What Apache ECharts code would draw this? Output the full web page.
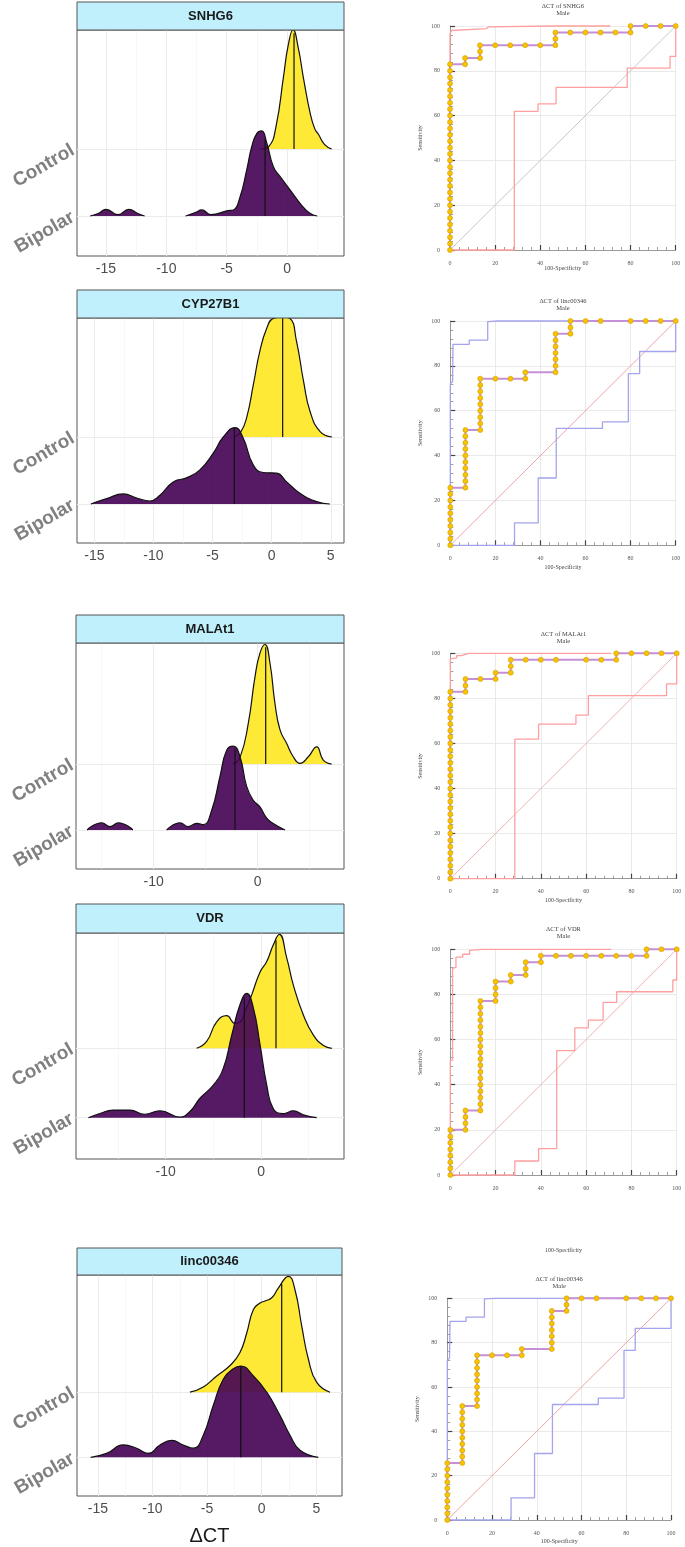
<!DOCTYPE html>
<html><head><meta charset="utf-8">
<script src="https://cdn.jsdelivr.net/npm/echarts@6/dist/echarts.min.js"></script>
<style>html,body{margin:0;padding:0;background:#fff}#c{width:685px;height:1547px}</style>
</head><body><div id="c"></div>
<script>
// ---------------- DATA ----------------
const genes = ['SNHG6', 'CYP27B1', 'MALAt1', 'VDR', 'linc00346'];
const groups = ['Bipolar', 'Control'];

// ridge densities: [ΔCT, relative height]; null = gap
const snhg6Control = [[-2.2,0],[-1.5,0.04],[-0.9,0.35],[-0.3,1.07],[0.1,1.55],[0.5,1.78],[0.94,1.5],[1.35,1.07],[1.91,0.54],[2.3,0.3],[2.6,0.22],[3.1,0.07],[3.7,0]];
const snhg6Bipolar = [[-16.3,0],[-15.6,0.04],[-15.0,0.1],[-14.0,0.02],[-13.1,0.1],[-12.4,0.04],[-11.8,0],null,[-8.4,0],[-7.6,0.05],[-7.07,0.09],[-6.3,0.02],[-4.92,0.08],[-4.45,0.09],[-3.9,0.28],[-3.34,0.69],[-2.93,1.03],[-2.51,1.23],[-2.1,1.27],[-1.68,1.09],[-1.14,0.74],[-0.58,0.59],[0.25,0.39],[1.08,0.19],[1.9,0.04],[2.5,0]];
const cyp27b1Control = [[-3.2,0],[-2.6,0.08],[-2.1,0.3],[-1.55,0.78],[-1.0,1.28],[-0.4,1.63],[0.15,1.77],[0.9,1.79],[1.55,1.77],[2.1,1.43],[2.7,0.83],[3.25,0.38],[4.1,0.08],[5.1,0]];
const cyp27b1Bipolar = [[-15.3,0],[-13.96,0.08],[-12.55,0.15],[-11.42,0.09],[-10.3,0.045],[-9.45,0.13],[-8.33,0.33],[-7.2,0.39],[-6.07,0.51],[-4.94,0.76],[-4.09,1.0],[-3.1,1.14],[-2.4,0.98],[-1.55,0.58],[-0.71,0.47],[0.42,0.46],[1.27,0.33],[2.39,0.16],[3.81,0.035],[4.93,0]];
const malat1Control = [[-2.4,0],[-1.7,0.1],[-0.9,0.62],[-0.26,1.32],[0.22,1.68],[0.7,1.81],[1.18,1.53],[1.66,0.92],[2.14,0.52],[2.79,0.31],[3.42,0.11],[4.07,0.01],[4.87,0.11],[5.67,0.26],[6.31,0.06],[7.12,0]];
const malat1Bipolar = [[-16.4,0],[-15.0,0.11],[-14.2,0.05],[-13.4,0.11],[-12.0,0],null,[-8.75,0],[-7.47,0.11],[-6.67,0.05],[-5.87,0.1],[-5.23,0.08],[-4.42,0.3],[-3.63,0.81],[-2.98,1.21],[-2.35,1.27],[-1.7,1.11],[-1.06,0.66],[-0.42,0.45],[0.22,0.35],[0.87,0.18],[1.5,0.1],[2.63,0]];
const vdrControl = [[-6.75,0],[-5.7,0.1],[-4.65,0.38],[-3.6,0.47],[-2.73,0.36],[-2.2,0.375],[-1.68,0.53],[-0.98,0.77],[-0.1,1.1],[0.6,1.25],[1.29,1.49],[1.92,1.64],[2.7,1.3],[3.39,0.91],[4.44,0.48],[5.49,0.19],[6.54,0.04],[7.42,0]];
const vdrBipolar = [[-18.1,0],[-16.9,0.06],[-15.5,0.11],[-13.75,0.11],[-12.2,0.05],[-10.6,0.1],[-8.5,0.01],[-7.45,0.09],[-6.4,0.28],[-5.0,0.47],[-3.96,0.71],[-3.07,1.19],[-2.2,1.63],[-1.5,1.79],[-0.8,1.58],[-0.1,1.05],[0.6,0.47],[1.29,0.13],[2.34,0.06],[3.39,0.1],[4.44,0.04],[5.84,0]];
const linc00346Control = [[-6.57,0],[-5.35,0.08],[-4.12,0.25],[-2.9,0.41],[-1.99,0.61],[-1.37,0.91],[-0.76,1.27],[-0.15,1.37],[0.3,1.4],[0.92,1.45],[1.52,1.6],[2.44,1.78],[3.05,1.57],[3.66,1.02],[4.27,0.51],[5.04,0.15],[6.25,0]];
const linc00346Bipolar = [[-15.66,0],[-14.2,0.06],[-12.67,0.19],[-11.45,0.14],[-10.38,0.06],[-9.31,0.19],[-8.24,0.26],[-7.18,0.19],[-6.26,0.14],[-5.35,0.34],[-4.43,0.8],[-3.52,1.2],[-2.6,1.36],[-1.92,1.4],[-0.76,1.25],[0.46,1.0],[1.68,0.64],[2.59,0.34],[3.51,0.11],[5.18,0]];

const controlMedians = [0.58, 0.93, 0.77, 1.57, 1.83];
const bipolarMedians = [-1.82, -3.16, -2.18, -1.75, -1.92];

const majorTicks = [[-15,-10,-5,0],[-15,-10,-5,0,5],[-10,0],[-10,0],[-15,-10,-5,0,5]];
const minorTicks = [[-12.5,-7.5,-2.5,2.5],[-12.5,-7.5,-2.5,2.5],[-15,-5,5],[-15,-5,5],[-12.5,-7.5,-2.5,2.5]];

// ROC curves: [100-Specificity, Sensitivity]
const snhg6Roc = [[0,0],[0,2.9],[0,5.7],[0,8.6],[0,11.4],[0,14.3],[0,17.1],[0,20],[0,22.9],[0,25.7],[0,28.6],[0,31.4],[0,34.3],[0,37.1],[0,40],[0,42.9],[0,45.7],[0,48.6],[0,51.4],[0,54.3],[0,57.1],[0,60],[0,62.9],[0,65.7],[0,68.6],[0,71.4],[0,74.3],[0,77.1],[0,80],[0,82.9],[6.7,82.9],[6.7,85.7],[13.3,85.7],[13.3,88.6],[13.3,91.4],[20,91.4],[26.7,91.4],[33.3,91.4],[40,91.4],[46.7,91.4],[46.7,94.3],[46.7,97.1],[53.3,97.1],[60,97.1],[66.7,97.1],[73.3,97.1],[80,97.1],[80,100],[86.7,100],[93.3,100],[100,100]];
const snhg6Upper = [[0,0],[0,96.5],[0.7,98],[1.5,98.6],[16,98.8],[17,99.6],[45,100],[71,100]];
const snhg6Lower = [[0,0],[28.5,0],[28.5,61.9],[39,61.9],[39,65.2],[47,65.2],[47,72.6],[78.5,72.6],[78.5,81.2],[97.5,81.2],[97.5,86.4],[100,86.4],[100,100]];

const linc00346Roc = [[0,0],[0,2.9],[0,5.7],[0,8.6],[0,11.4],[0,14.3],[0,17.1],[0,20],[0,22.9],[0,25.7],[6.7,25.7],[6.7,28.6],[6.7,31.4],[6.7,34.3],[6.7,37.1],[6.7,40],[6.7,42.9],[6.7,45.7],[6.7,48.6],[6.7,51.4],[13.3,51.4],[13.3,54.3],[13.3,57.1],[13.3,60],[13.3,62.9],[13.3,65.7],[13.3,68.6],[13.3,71.4],[13.3,74.3],[20,74.3],[26.7,74.3],[33.3,74.3],[33.3,77.1],[46.7,77.1],[46.7,80],[46.7,82.9],[46.7,85.7],[46.7,88.6],[46.7,91.4],[46.7,94.3],[53.3,94.3],[53.3,97.1],[53.3,100],[60,100],[66.7,100],[80,100],[86.7,100],[93.3,100],[100,100]];
const linc00346Upper = [[0,0],[0,72],[1,73],[1.2,89.6],[8.4,89.6],[8.4,91.5],[16.6,91.5],[16.6,99.7],[21,100],[100,100]];
const linc00346Lower = [[0,0],[28.5,0],[28.5,10],[39,10],[39,30],[47,30],[47,52.1],[67.5,52.1],[67.5,55],[79,55],[79,76.5],[84,76.5],[84,86.4],[100,86.4],[100,100]];

const malat1Roc = [[0,0],[0,2.9],[0,5.7],[0,8.6],[0,11.4],[0,14.3],[0,17.1],[0,20],[0,22.9],[0,25.7],[0,28.6],[0,31.4],[0,34.3],[0,37.1],[0,40],[0,42.9],[0,45.7],[0,48.6],[0,51.4],[0,54.3],[0,57.1],[0,60],[0,62.9],[0,65.7],[0,68.6],[0,71.4],[0,74.3],[0,77.1],[0,80],[0,82.9],[6.7,82.9],[6.7,85.7],[6.7,88.6],[13.3,88.6],[20,88.6],[20,91.4],[26.7,91.4],[26.7,94.3],[26.7,97.1],[33.3,97.1],[40,97.1],[46.7,97.1],[60,97.1],[66.7,97.1],[73.3,97.1],[73.3,100],[80,100],[86.7,100],[93.3,100],[100,100]];
const malat1Upper = [[0,0],[0,97.5],[2.8,98],[2.8,99],[5,99],[5.5,99.8],[8,100],[71,100]];
const malat1Lower = [[0,0],[28.5,0],[28.5,61.9],[39,61.9],[39,68.6],[55.5,68.6],[55.5,72.6],[61,72.6],[61,81.2],[95.5,81.2],[95.5,86.4],[100,86.4],[100,100]];

const vdrRoc = [[0,0],[0,2.9],[0,5.7],[0,8.6],[0,11.4],[0,14.3],[0,17.1],[0,20],[6.7,20],[6.7,22.9],[6.7,25.7],[6.7,28.6],[13.3,28.6],[13.3,31.4],[13.3,34.3],[13.3,37.1],[13.3,40],[13.3,42.9],[13.3,45.7],[13.3,48.6],[13.3,51.4],[13.3,54.3],[13.3,57.1],[13.3,60],[13.3,62.9],[13.3,65.7],[13.3,68.6],[13.3,71.4],[13.3,74.3],[13.3,77.1],[20,77.1],[20,80],[20,82.9],[20,85.7],[26.7,85.7],[26.7,88.6],[33.3,88.6],[33.3,91.4],[33.3,94.3],[40,94.3],[40,97.1],[46.7,97.1],[53.3,97.1],[60,97.1],[66.7,97.1],[73.3,97.1],[80,97.1],[86.7,97.1],[86.7,100],[93.3,100],[100,100]];
const vdrUpper = [[0,0],[0,50.7],[1,51],[1,91.5],[2.5,92],[2.5,96.5],[5.5,96.5],[5.5,97.8],[8.5,97.8],[8.5,99.5],[14,100],[71,100]];
const vdrLower = [[0,0],[28.5,0],[28.5,6.2],[39,6.2],[39,11.7],[47,11.7],[47,55.1],[55,55.1],[55,65.2],[61,65.2],[61,68.6],[67.5,68.6],[67.5,76.5],[73.5,76.5],[73.5,81.2],[98.3,81.2],[98.3,86.4],[100,86.4],[100,100]];

const diagonal = [[0,0],[100,100]];
const rocTitles = ['ΔCT of SNHG6', 'ΔCT of linc00346', 'ΔCT of MALAt1', 'ΔCT of VDR', 'ΔCT of linc00346'];
const rocSubtitle = 'Male';
const rocXName = '100-Specificity';
const rocYName = 'Sensitivity';
const xTitle = 'ΔCT';

// ---------------- LAYOUT / STYLE ----------------
const ridgeData = [
  [snhg6Control, snhg6Bipolar], [cyp27b1Control, cyp27b1Bipolar], [malat1Control, malat1Bipolar],
  [vdrControl, vdrBipolar], [linc00346Control, linc00346Bipolar]
];
const rocData = [
  [snhg6Roc, snhg6Upper, snhg6Lower], [linc00346Roc, linc00346Upper, linc00346Lower],
  [malat1Roc, malat1Upper, malat1Lower], [vdrRoc, vdrUpper, vdrLower],
  [linc00346Roc, linc00346Upper, linc00346Lower]
];
const ridgeLayout = [
  {left:77, top:30, width:267, height:226, stripTop:2, xMin:-17.4, xMax:4.72, yMin:-0.597, yMax:2.776},
  {left:77, top:318, width:267, height:225, stripTop:290, xMin:-16.47, xMax:6.12, yMin:-0.582, yMax:2.776},
  {left:76, top:643, width:268, height:226, stripTop:615, xMin:-17.47, xMax:8.3, yMin:-0.591, yMax:2.833},
  {left:76, top:933, width:268, height:226, stripTop:904, xMin:-19.4, xMax:8.7, yMin:-0.595, yMax:2.661},
  {left:77, top:1275, width:265, height:223, stripTop:1248, xMin:-16.91, xMax:7.35, yMin:-0.594, yMax:2.8}
];
const rocLayout = [
  {left:450, top:26, width:225.7, height:224, titleY:6, xNameY:268},
  {left:450.3, top:321, width:225.4, height:224.3, titleY:301, xNameY:567.7},
  {left:450.3, top:653.3, width:226.4, height:225.4, titleY:634, xNameY:900.7},
  {left:450.3, top:949.3, width:226.4, height:225.7, titleY:929, xNameY:1250},
  {left:447.3, top:1298.3, width:223.7, height:221.7, titleY:1279, xNameY:1541.7}
];
const ciColors = ['#ff9f9f', '#a3a3ee', '#ff9f9f', '#ff9f9f', '#a3a3ee'];
const diagColors = ['#c8c8c8', '#eaa6a6', '#f2b4b4', '#f2b4b4', '#eaa6a6'];
const YELLOW = 'rgba(253,231,37,0.92)';
const PURPLE = 'rgba(68,1,84,0.9)';
const SANS = 'Liberation Sans, Arial, sans-serif';
const SERIF = 'Liberation Serif, Times New Roman, serif';

function toSeriesData(arr, base) {
  return arr.map(p => p === null ? ['-', '-'] : [p[0], base + p[1]]);
}
function heightAt(arr, x) {
  const pts = arr.filter(p => p !== null);
  for (let i = 0; i < pts.length - 1; i++) {
    const a = pts[i], b = pts[i + 1];
    if (x >= a[0] && x <= b[0]) {
      const t = (x - a[0]) / (b[0] - a[0]);
      return a[1] + t * (b[1] - a[1]);
    }
  }
  return 0;
}

const grid = [], xAxis = [], yAxis = [], series = [], graphic = [];

ridgeLayout.forEach((L, i) => {
  grid.push({left:L.left, top:L.top, width:L.width, height:L.height, show:true,
    borderColor:'#555', borderWidth:1, backgroundColor:'#fff', containLabel:false});
  xAxis.push({type:'value', gridIndex:i, min:L.xMin, max:L.xMax,
    axisLine:{show:false}, splitLine:{show:false},
    axisTick:{show:true, customValues:majorTicks[i], length:4, lineStyle:{color:'#333'}},
    axisLabel:{customValues:majorTicks[i], fontSize:14, color:'#4d4d4d', margin:6, fontFamily:SANS},
    name: i === 4 ? xTitle : '', nameLocation:'middle', nameGap:30,
    nameTextStyle:{fontSize:20, color:'#1a1a1a', fontFamily:SANS}});
  yAxis.push({type:'value', gridIndex:i, min:L.yMin, max:L.yMax,
    axisLine:{show:false}, splitLine:{show:false},
    axisTick:{show:true, customValues:[0,1], length:4, lineStyle:{color:'#333'}},
    axisLabel:{customValues:[0,1], formatter:v => groups[Math.round(v)], rotate:30,
      fontSize:19, fontWeight:'bold', color:'#808080', margin:4, fontFamily:SANS}});
  // gridlines
  const ml = [];
  majorTicks[i].forEach(v => ml.push({xAxis:v, lineStyle:{color:'#ebebeb', width:1}}));
  minorTicks[i].forEach(v => ml.push({xAxis:v, lineStyle:{color:'#f2f2f2', width:0.6}}));
  [0, 1].forEach(v => ml.push({yAxis:v, lineStyle:{color:'#ebebeb', width:1}}));
  series.push({type:'line', xAxisIndex:i, yAxisIndex:i, data:[['-','-']], silent:true, showSymbol:false,
    markLine:{silent:true, symbol:['none','none'], label:{show:false}, animation:false,
      lineStyle:{type:'solid'}, data:ml}});
  const [ctrl, bip] = ridgeData[i];
  const common = {type:'line', xAxisIndex:i, yAxisIndex:i, symbol:'none', smooth:0.5, clip:true, silent:true, animation:false};
  series.push(Object.assign({}, common, {name:'Control', z:10, data:toSeriesData(ctrl, 1),
    lineStyle:{color:'#111', width:1.2}, areaStyle:{color:YELLOW, opacity:1, origin:1}}));
  series.push(Object.assign({}, common, {z:11, smooth:false,
    data:[[controlMedians[i], 1], [controlMedians[i], 1 + heightAt(ctrl, controlMedians[i])]],
    lineStyle:{color:'#111', width:1.2}}));
  series.push(Object.assign({}, common, {name:'Bipolar', z:12, data:toSeriesData(bip, 0),
    lineStyle:{color:'#111', width:1.2}, areaStyle:{color:PURPLE, opacity:1, origin:0}}));
  series.push(Object.assign({}, common, {z:13, smooth:false,
    data:[[bipolarMedians[i], 0], [bipolarMedians[i], heightAt(bip, bipolarMedians[i])]],
    lineStyle:{color:'#111', width:1.2}}));
  // strip
  graphic.push({type:'rect', silent:true, shape:{x:L.left, y:L.stripTop, width:L.width, height:L.top - L.stripTop},
    style:{fill:'#bff0fc', stroke:'#555', lineWidth:1}, z:20});
  graphic.push({type:'text', silent:true, x:L.left + L.width / 2, y:(L.stripTop + L.top) / 2,
    style:{text:genes[i], align:'center', verticalAlign:'middle', fontSize:13, fontWeight:'bold', fontFamily:SANS, fill:'#1a1a1a'}, z:21});
});

rocLayout.forEach((L, k) => {
  const gi = 5 + k;
  grid.push({left:L.left, top:L.top, width:L.width, height:L.height, show:false});
  const axisCommon = {type:'value', gridIndex:gi, min:0, max:100, interval:20, offset:7,
    axisLine:{show:true, lineStyle:{color:'#9a9a9a', width:1}},
    axisTick:{show:true, inside:true, length:5, lineStyle:{color:'#444', width:1.2}},
    minorTick:{show:true, splitNumber:5, length:3, lineStyle:{color:'#888', width:0.8}},
    axisLabel:{fontSize:6, color:'#555', fontFamily:SERIF, margin:3},
    splitLine:{show:true, lineStyle:{color:'#e4e4e4', width:0.8}}};
  xAxis.push(Object.assign({}, axisCommon));
  yAxis.push(Object.assign({}, axisCommon, {name:rocYName, nameLocation:'middle', nameGap:20, nameRotate:90,
    nameTextStyle:{fontSize:6, color:'#444', fontFamily:SERIF}}));
  const [main, up, low] = rocData[k];
  const c = {type:'line', xAxisIndex:gi, yAxisIndex:gi, clip:false, silent:true, animation:false};
  series.push(Object.assign({}, c, {data:diagonal, symbol:'none', z:2, lineStyle:{color:diagColors[k], width:1}}));
  series.push(Object.assign({}, c, {data:up, symbol:'none', z:3, lineStyle:{color:ciColors[k], width:1.3}}));
  series.push(Object.assign({}, c, {data:low, symbol:'none', z:3, lineStyle:{color:ciColors[k], width:1.3}}));
  series.push(Object.assign({}, c, {data:main, symbol:'circle', symbolSize:5, z:4,
    lineStyle:{color:'#c690d8', width:2},
    itemStyle:{color:'#f6c400', borderColor:'#d49c00', borderWidth:0.6}}));
  const cx = L.left + L.width / 2;
  graphic.push({type:'text', silent:true, x:cx, y:L.titleY,
    style:{text:rocTitles[k], align:'center', verticalAlign:'middle', fontSize:6.5, fontFamily:SERIF, fill:'#444'}});
  graphic.push({type:'text', silent:true, x:cx, y:L.titleY + 7.5,
    style:{text:rocSubtitle, align:'center', verticalAlign:'middle', fontSize:6.5, fontFamily:SERIF, fill:'#444'}});
  graphic.push({type:'text', silent:true, x:cx, y:L.xNameY,
    style:{text:rocXName, align:'center', verticalAlign:'middle', fontSize:6, fontFamily:SERIF, fill:'#444'}});
});

const chart = echarts.init(document.getElementById('c'), null, {renderer:'canvas'});
chart.setOption({animation:false, backgroundColor:'#fff', grid, xAxis, yAxis, series, graphic});
</script>
</body></html>
